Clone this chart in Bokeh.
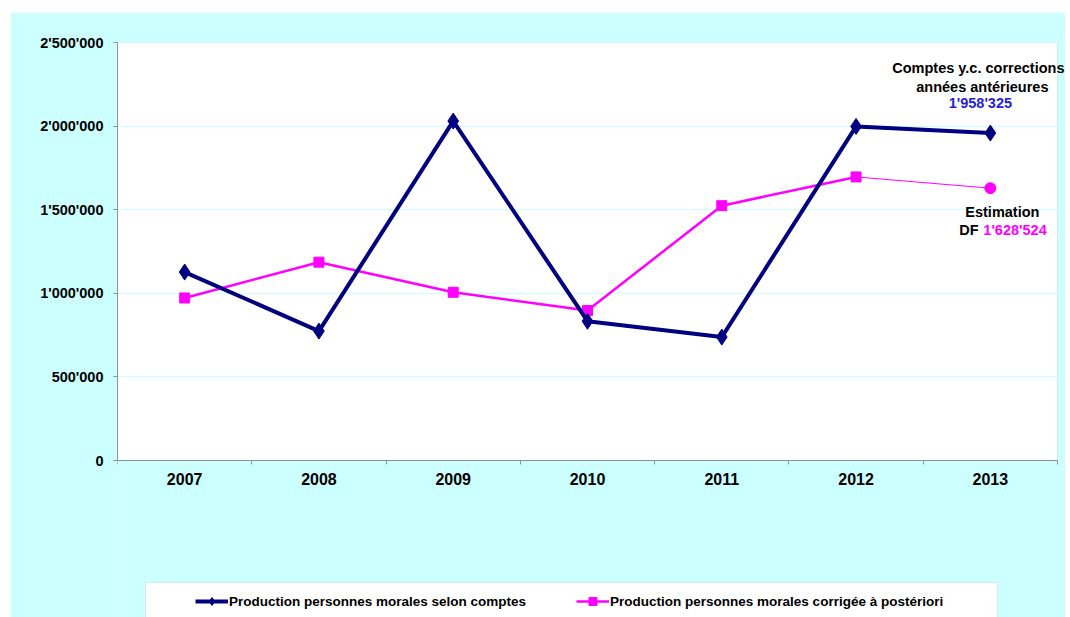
from bokeh.plotting import figure
from bokeh.models import (ColumnDataSource, FixedTicker, Legend, LegendItem, Label,
                          Range1d, Spacer, BoxAnnotation)
from bokeh.layouts import column, row
from bokeh.embed import file_html
from bokeh.resources import INLINE

# ---- data ----
years = ["2007", "2008", "2009", "2010", "2011", "2012", "2013"]
comptes = [1127000, 774000, 2030000, 833000, 738000, 1998000, 1958325]
corrigee = [972000, 1186000, 1006000, 897000, 1524000, 1696000]
estimation_2013 = 1628524
y_ticks = [0, 500000, 1000000, 1500000, 2000000, 2500000]
y_tick_labels = ["0", "500'000", "1'000'000", "1'500'000", "2'000'000", "2'500'000"]
label_comptes = "Production personnes morales selon comptes"
label_corrigee = "Production personnes morales corrigée à postériori"
note_comptes = ["Comptes y.c. corrections", "années antérieures", "1'958'325"]
note_estim = ["Estimation", "DF", "1'628'524"]

FONT = "Liberation Sans"
NAVY = "#000080"
PINK = "#FF00FF"
CYAN = "#CCFFFF"
GRAY = "#909090"

# ---- layout geometry (pixels) ----
FIG_W, FIG_H = 1055, 605          # figure placed at page (10, 12)
LEFT, TOP = 107, 30               # frame starts at page (117, 42)
PLOT_W, PLOT_H = 940, 418         # white plotting area (page 117..1057, 42..460)
FRAME_W, FRAME_H = FIG_W - LEFT, FIG_H - TOP

ncat = len(years)
ymax = y_ticks[-1]
xpos = [i + 0.5 for i in range(ncat)]
x_end = ncat * FRAME_W / PLOT_W
y_start = -ymax * (FRAME_H - PLOT_H) / PLOT_H

p = figure(width=FIG_W, height=FIG_H, output_backend="svg", toolbar_location=None,
           x_range=Range1d(0, x_end), y_range=Range1d(y_start, ymax),
           min_border_left=LEFT, min_border_right=0, min_border_top=TOP, min_border_bottom=0)
p.background_fill_color = CYAN
p.border_fill_color = CYAN
p.outline_line_color = None

# white plotting area with its thin grey border
p.add_layout(BoxAnnotation(left=0, right=ncat, bottom=0, top=ymax, level="image",
                           fill_color="white", fill_alpha=1.0,
                           line_color="#a8b8b8", line_width=1))

xa = p.xaxis[0]
xa.fixed_location = 0
xa.bounds = (0, ncat)
xa.ticker = FixedTicker(ticks=xpos, minor_ticks=list(range(ncat + 1)))
xa.major_label_overrides = {x: y for x, y in zip(xpos, years)}
xa.major_tick_out = 0
xa.major_tick_in = 0
xa.minor_tick_out = 4
xa.minor_tick_in = 0
xa.minor_tick_line_color = GRAY
xa.axis_line_color = GRAY
xa.major_label_text_font = FONT
xa.major_label_text_font_style = "bold"
xa.major_label_text_font_size = "16px"
xa.major_label_text_color = "black"
xa.major_label_standoff = 8

ya = p.yaxis[0]
ya.bounds = (0, ymax)
ya.ticker = FixedTicker(ticks=y_ticks, minor_ticks=[])
ya.major_label_overrides = {t: l for t, l in zip(y_ticks, y_tick_labels)}
ya.major_tick_out = 4
ya.major_tick_in = 0
ya.major_tick_line_color = GRAY
ya.axis_line_color = GRAY
ya.major_label_text_font = FONT
ya.major_label_text_font_style = "bold"
ya.major_label_text_font_size = "14.5px"
ya.major_label_text_color = "black"
ya.major_label_standoff = 10

p.xgrid.grid_line_color = None
p.ygrid.grid_line_color = CYAN
p.ygrid.grid_line_width = 1

# ---- series ----
n_c = len(corrigee)
src_c = ColumnDataSource(dict(x=xpos, y=comptes))
src_p = ColumnDataSource(dict(x=xpos[:n_c], y=corrigee))
src_e = ColumnDataSource(dict(x=[xpos[n_c - 1], xpos[n_c]], y=[corrigee[-1], estimation_2013]))
src_e_pt = ColumnDataSource(dict(x=[xpos[n_c]], y=[estimation_2013]))

p.line("x", "y", source=src_e, line_color=PINK, line_width=1)
pp_line = p.line("x", "y", source=src_p, line_color=PINK, line_width=2.5)
pp_pts = p.scatter("x", "y", source=src_p, marker="square", size=10, fill_color=PINK, line_color=PINK)
p.scatter("x", "y", source=src_e_pt, marker="circle", size=11, fill_color=PINK, line_color=PINK)
c_line = p.line("x", "y", source=src_c, line_color=NAVY, line_width=4)
c_pts = p.scatter("x", "y", source=src_c, marker="diamond", size=16, fill_color=NAVY, line_color=NAVY)

# ---- notes near 2013 ----
i13 = ncat - 1
def add_label(dx, page_y, text, color, align="center"):
    p.add_layout(Label(x=xpos[i13], y=(TOP + FRAME_H + 12) - page_y, x_units="data", y_units="screen",
                       x_offset=dx, text=text, text_font=FONT, text_font_style="bold",
                       text_font_size="14.5px", text_color=color, text_align=align,
                       text_baseline="middle"))

add_label(-12, 67, note_comptes[0], "black")
add_label(-8, 86, note_comptes[1], "black")
add_label(-10, 102, note_comptes[2], "#2323D6")
add_label(12, 211, note_estim[0], "black")
add_label(-31, 229, note_estim[1], "black", align="left")
add_label(-7, 229, note_estim[2], PINK, align="left")

# ---- legend box + legend ----
p.add_layout(BoxAnnotation(left=135, right=987, top=570, bottom=FIG_H + 20,
                           left_units="canvas", right_units="canvas",
                           top_units="canvas", bottom_units="canvas",
                           fill_color="white", fill_alpha=1.0,
                           line_color="#b0b8b8", line_width=1))

legend = Legend(items=[LegendItem(label=label_comptes, renderers=[c_line, c_pts]),
                       LegendItem(label=label_corrigee, renderers=[pp_line, pp_pts])],
                orientation="horizontal", location=(78, 6),
                padding=0, spacing=50, glyph_width=33, glyph_height=20,
                label_standoff=1, label_text_font=FONT, label_text_font_style="bold",
                label_text_font_size="13.5px", label_text_color="black",
                border_line_alpha=0, background_fill_alpha=0)
p.add_layout(legend, "center")

layout = column(Spacer(height=12), row(Spacer(width=10), p, spacing=0), spacing=0)

open("out.html", "w").write(file_html(layout, INLINE))
